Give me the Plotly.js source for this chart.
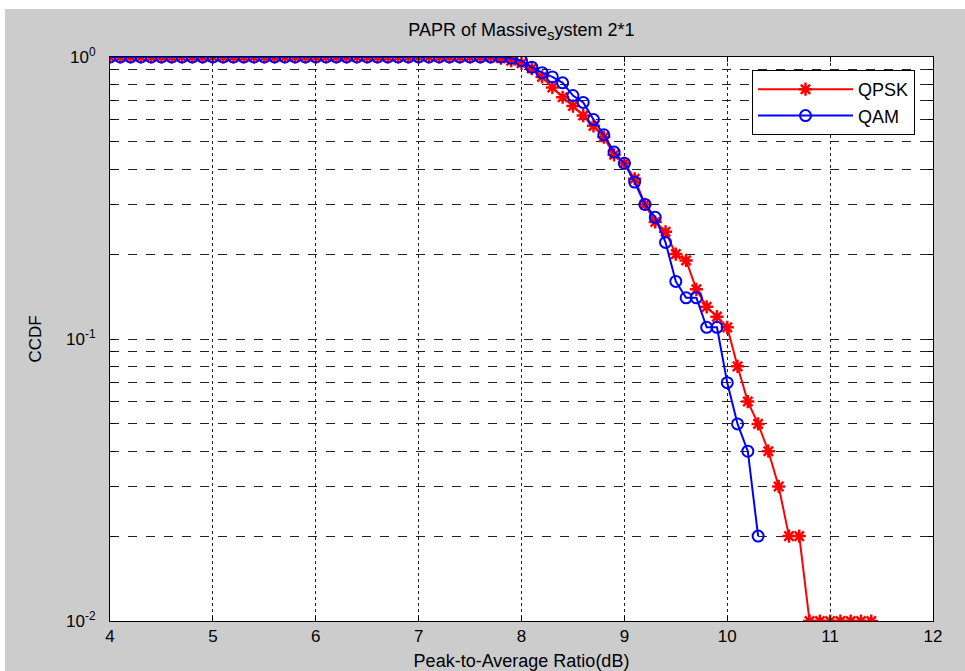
<!DOCTYPE html>
<html>
<head>
<meta charset="utf-8">
<script src="https://cdn.plot.ly/plotly-3.0.1.min.js"></script>
<style>html,body{margin:0;padding:0;background:#fff;}#chart{width:965px;height:671px;}</style>
</head>
<body>
<div id="chart"></div>
<script>
// PAPR (dB) sample points
var papr = [4.0,4.1,4.2,4.3,4.4,4.5,4.6,4.7,4.8,4.9,
            5.0,5.1,5.2,5.3,5.4,5.5,5.6,5.7,5.8,5.9,
            6.0,6.1,6.2,6.3,6.4,6.5,6.6,6.7,6.8,6.9,
            7.0,7.1,7.2,7.3,7.4,7.5,7.6,7.7,7.8,7.9,
            8.0,8.1,8.2,8.3,8.4,8.5,8.6,8.7,8.8,8.9,
            9.0,9.1,9.2,9.3,9.4,9.5,9.6,9.7,9.8,9.9,
            10.0,10.1,10.2,10.3,10.4,10.5,10.6,10.7,10.8,10.9,
            11.0,11.1,11.2,11.3,11.4];

// CCDF QPSK (4.0 .. 11.4)
var ccdfQPSK = [1,1,1,1,1,1,1,1,1,1,
                1,1,1,1,1,1,1,1,1,1,
                1,1,1,1,1,1,1,1,1,1,
                1,1,1,1,1,1,1,1,0.99,0.97,
                0.95,0.91,0.85,0.78,0.72,0.67,0.62,0.57,0.52,0.45,
                0.42,0.37,0.30,0.26,0.24,0.20,0.19,0.15,0.13,0.12,
                0.11,0.08,0.06,0.05,0.04,0.03,0.02,0.02,0.01,0.01,
                0.01,0.01,0.01,0.01,0.01];

// CCDF QAM (4.0 .. 10.3)
var paprQAM = papr.slice(0, 64);
var ccdfQAM = [1,1,1,1,1,1,1,1,1,1,
               1,1,1,1,1,1,1,1,1,1,
               1,1,1,1,1,1,1,1,1,1,
               1,1,1,1,1,1,1,1,1,0.99,
               0.97,0.92,0.88,0.85,0.81,0.73,0.69,0.60,0.53,0.46,
               0.42,0.36,0.30,0.27,0.22,0.16,0.14,0.14,0.11,0.11,
               0.07,0.05,0.04,0.02];

var seriesNames = ['QPSK', 'QAM'];
var xTicks = [4,5,6,7,8,9,10,11,12];
var yTickVals = [0.01,0.02,0.03,0.04,0.05,0.06,0.07,0.08,0.09,
                 0.1,0.2,0.3,0.4,0.5,0.6,0.7,0.8,0.9,1];
var yTickText = ['10<sup>-2</sup>','','','','','','','','',
                 '10<sup>-1</sup>','','','','','','','','','10<sup>0</sup>'];

var traces = [
  {x: papr, y: ccdfQPSK, name: seriesNames[0], type: 'scatter', mode: 'lines+markers',
   line: {color: '#ff0000', width: 2},
   marker: {symbol: 'asterisk-open', size: 11, color: '#ff0000', line: {color: '#ff0000', width: 2.5}}},
  {x: paprQAM, y: ccdfQAM, name: seriesNames[1], type: 'scatter', mode: 'lines+markers',
   line: {color: '#0000ff', width: 2},
   marker: {symbol: 'circle-open', size: 11, color: '#0000ff', line: {color: '#0000ff', width: 2}}}
];

var L = 110, R = 933, T = 57, B = 621, W = 965, H = 671;
var pw = R - L, ph = B - T;

var layout = {
  width: W, height: H,
  margin: {l: L, r: W - R, t: T, b: H - B, pad: 0},
  paper_bgcolor: '#cccccc',
  plot_bgcolor: '#ffffff',
  font: {family: 'Liberation Sans, Arial, sans-serif', size: 17, color: '#000'},
  title: {text: 'PAPR of Massive<sub><span style="font-size:15px">s</span></sub>ystem 2*1',
          x: 0.5 * (L + R) / W, xanchor: 'center',
          y: 1 - 30 / H, yanchor: 'middle', font: {size: 18, color: '#000'}},
  showlegend: true,
  legend: {x: (752 - L) / pw, y: (B - 70) / ph, xanchor: 'left', yanchor: 'top',
           bgcolor: '#ffffff', bordercolor: '#000000', borderwidth: 1,
           font: {size: 18}, itemwidth: 95, tracegroupgap: 0},
  xaxis: {range: [4, 12], tickvals: xTicks, ticktext: xTicks.map(String),
          ticks: 'inside', ticklen: 5, tickcolor: '#000', mirror: 'ticks',
          showline: true, linecolor: '#000', linewidth: 1,
          showgrid: true, gridcolor: '#222', griddash: 'dot', gridwidth: 1,
          zeroline: false, tickfont: {size: 17},
          title: {text: 'Peak-to-Average Ratio(dB)', standoff: 10, font: {size: 18}}},
  yaxis: {type: 'log', range: [-2, 0], tickvals: yTickVals, ticktext: yTickText,
          ticks: 'inside', ticklen: 5, tickcolor: '#000', mirror: 'ticks',
          showline: true, linecolor: '#000', linewidth: 1,
          showgrid: true, gridcolor: '#222', griddash: 'dash', gridwidth: 1,
          zeroline: false, tickfont: {size: 17}, ticklabelstandoff: 10,
          title: {text: 'CCDF', standoff: 20, font: {size: 17}}},
  shapes: [
    {type: 'rect', xref: 'paper', yref: 'paper', layer: 'below',
     x0: -L / pw, x1: (W - L) / pw + 0.01, y0: (B - 9) / ph, y1: B / ph + 0.01,
     fillcolor: '#ffffff', line: {width: 0}},
    {type: 'rect', xref: 'paper', yref: 'paper', layer: 'below',
     x0: -L / pw - 0.01, x1: (5 - L) / pw, y0: (B - H) / ph - 0.01, y1: B / ph + 0.01,
     fillcolor: '#ffffff', line: {width: 0}}
  ]
};

Plotly.newPlot('chart', traces, layout, {displayModeBar: false, staticPlot: true});
</script>
</body>
</html>
